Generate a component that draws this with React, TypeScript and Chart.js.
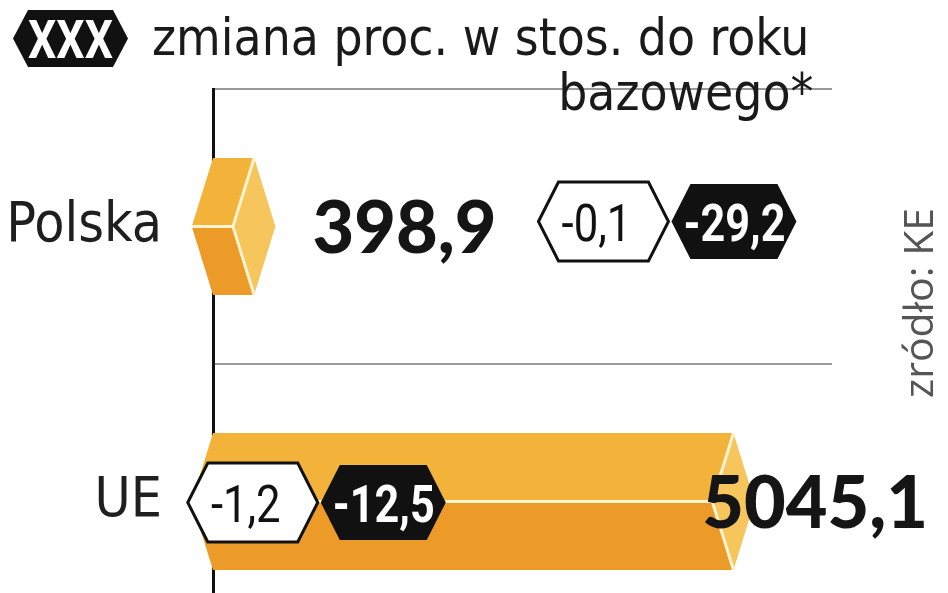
import React, { useEffect, useRef } from 'react';
import { Chart, registerables } from 'chart.js';

Chart.register(...registerables);

// ---- data ----
const categories = ['Polska', 'UE'];
const values = [398.9, 5045.1];
const changeVsPrevYear = [-0.1, -1.2];
const changeVsBaseYear = [-29.2, -12.5];
const legendBadgeText = 'XXX';
const titleLines = ['zmiana proc. w stos. do roku', 'bazowego*'];
const sourceText = 'zródło: KE';
const xMax = 6000;

const fmt = (v: number) => v.toFixed(1).replace('.', ',');

const COND = "'DejaVu Sans Condensed', 'DejaVu Sans', sans-serif";
const BADGE = "Roboto, 'Liberation Sans', sans-serif";

function hexPath(ctx: CanvasRenderingContext2D, left: number, cy: number, w: number, h: number, tip: number) {
  ctx.beginPath();
  ctx.moveTo(left, cy);
  ctx.lineTo(left + tip, cy - h / 2);
  ctx.lineTo(left + w - tip, cy - h / 2);
  ctx.lineTo(left + w, cy);
  ctx.lineTo(left + w - tip, cy + h / 2);
  ctx.lineTo(left + tip, cy + h / 2);
  ctx.closePath();
}

function narrowText(ctx: CanvasRenderingContext2D, text: string, cx: number, baseline: number, font: string, sx: number) {
  ctx.save();
  ctx.font = font;
  ctx.textAlign = 'center';
  ctx.textBaseline = 'alphabetic';
  ctx.translate(cx, baseline);
  ctx.scale(sx, 1);
  ctx.fillText(text, 0, 0);
  ctx.restore();
}

function drawBadges(ctx: CanvasRenderingContext2D, left: number, cy: number, a: number, b: number) {
  // white badge
  hexPath(ctx, left, cy, 130, 79, 20);
  ctx.fillStyle = '#ffffff';
  ctx.fill();
  ctx.lineWidth = 3;
  ctx.strokeStyle = '#111111';
  ctx.lineJoin = 'miter';
  ctx.stroke();
  ctx.fillStyle = '#111111';
  narrowText(ctx, fmt(a), left + 58, cy + 19, `400 52px ${BADGE}`, 0.84);
  // black badge
  const l2 = left + 133;
  hexPath(ctx, l2, cy, 125, 75, 19);
  ctx.fillStyle = '#111111';
  ctx.fill();
  ctx.fillStyle = '#ffffff';
  narrowText(ctx, fmt(b), l2 + 63, cy + 19, `700 52px ${BADGE}`, 0.83);
}

const prismPlugin = {
  id: 'prism',
  afterDatasetsDraw(chart: any) {
    const ctx: CanvasRenderingContext2D = chart.ctx;
    const area = chart.chartArea;
    const meta = chart.getDatasetMeta(0);
    ctx.save();
    meta.data.forEach((bar: any, i: number) => {
      const { x, y, base, height } = bar.getProps(['x', 'y', 'base', 'height'], true);
      const top = y - height / 2;
      const bot = y + height / 2;
      const d = height * 0.155;
      // top face
      ctx.beginPath();
      ctx.moveTo(base, top);
      ctx.lineTo(x, top);
      ctx.lineTo(x - d, y);
      ctx.lineTo(base - d, y);
      ctx.closePath();
      ctx.fillStyle = '#F3B23A';
      ctx.fill();
      // bottom face
      ctx.beginPath();
      ctx.moveTo(base - d, y);
      ctx.lineTo(x - d, y);
      ctx.lineTo(x, bot);
      ctx.lineTo(base, bot);
      ctx.closePath();
      ctx.fillStyle = '#EC9A28';
      ctx.fill();
      // cap
      ctx.beginPath();
      ctx.moveTo(x, top);
      ctx.lineTo(x + d, y);
      ctx.lineTo(x, bot);
      ctx.lineTo(x - d, y);
      ctx.closePath();
      ctx.fillStyle = '#F6C55C';
      ctx.fill();
      // separators
      ctx.strokeStyle = '#FFF4D2';
      ctx.lineWidth = 3;
      ctx.beginPath();
      ctx.moveTo(base - d, y);
      ctx.lineTo(x - d, y);
      ctx.moveTo(x, top);
      ctx.lineTo(x - d, y);
      ctx.lineTo(x, bot);
      ctx.stroke();

      // value label + badges
      const inside = x > (area.left + area.right) / 2;
      ctx.font = `900 72px Lato, Roboto, sans-serif`;
      ctx.fillStyle = '#151515';
      ctx.textBaseline = 'alphabetic';
      const label = fmt(values[i]);
      const tw = ctx.measureText(label).width;
      if (inside) {
        ctx.textAlign = 'right';
        ctx.fillText(label, chart.width - 20, y + 26);
        drawBadges(ctx, base - d - 4, y + 1, changeVsPrevYear[i], changeVsBaseYear[i]);
      } else {
        const tx = x + d + 37;
        ctx.textAlign = 'left';
        ctx.fillText(label, tx, y + 26);
        drawBadges(ctx, tx + tw + 42, y - 5, changeVsPrevYear[i], changeVsBaseYear[i]);
      }
    });
    ctx.restore();
  },
  afterDraw(chart: any) {
    const ctx: CanvasRenderingContext2D = chart.ctx;
    ctx.save();
    // legend badge
    hexPath(ctx, 13, 38.5, 115, 57, 15);
    ctx.fillStyle = '#111111';
    ctx.fill();
    ctx.fillStyle = '#ffffff';
    narrowText(ctx, legendBadgeText, 70.5, 58, `700 53px ${BADGE}`, 0.84);
    // title
    ctx.fillStyle = '#1a1a1a';
    ctx.font = `51px ${COND}`;
    ctx.textAlign = 'left';
    ctx.textBaseline = 'alphabetic';
    ctx.fillText(titleLines[0], 152, 55);
    const w1 = ctx.measureText(titleLines[0]).width;
    ctx.textAlign = 'right';
    ctx.fillText(titleLines[1], 152 + w1 + 4, 110);
    // source
    ctx.translate(921, 303);
    ctx.rotate(-Math.PI / 2);
    ctx.fillStyle = '#555555';
    ctx.font = `41px 'Open Sans', sans-serif`;
    ctx.textAlign = 'center';
    ctx.textBaseline = 'middle';
    ctx.fillText(sourceText, 0, 0);
    ctx.restore();
  },
};

export default function App() {
  const ref = useRef<HTMLCanvasElement | null>(null);
  useEffect(() => {
    if (!ref.current) return;
    const chart = new Chart(ref.current, {
      type: 'bar',
      data: {
        labels: categories,
        datasets: [
          {
            data: values,
            backgroundColor: 'rgba(0,0,0,0)',
            borderWidth: 0,
            barThickness: 137,
          },
        ],
      },
      options: {
        indexAxis: 'y',
        animation: false,
        responsive: false,
        maintainAspectRatio: false,
        devicePixelRatio: 1,
        layout: { padding: { top: 89, right: 116, left: 0, bottom: 0 } },
        plugins: { legend: { display: false }, tooltip: { enabled: false }, title: { display: false } },
        scales: {
          x: { display: false, min: 0, max: xMax },
          y: {
            offset: true,
            grid: { color: '#9a9a9a', lineWidth: 2, drawTicks: false, offset: true },
            border: { display: true, color: '#111111', width: 3 },
            ticks: { color: '#1f1f1f', padding: 51, font: { family: COND, size: 55 } },
            afterFit: (scale: any) => {
              scale.width = 213;
              scale.paddingTop = 0;
              scale.paddingBottom = 0;
            },
          },
        },
      },
      plugins: [prismPlugin],
    });
    return () => chart.destroy();
  }, []);
  return (
    <div style={{ position: 'fixed', left: 0, top: 0, width: 948, height: 639, background: '#fff' }}>
      <canvas ref={ref} width={948} height={639} style={{ width: 948, height: 639, display: 'block' }} />
    </div>
  );
}
